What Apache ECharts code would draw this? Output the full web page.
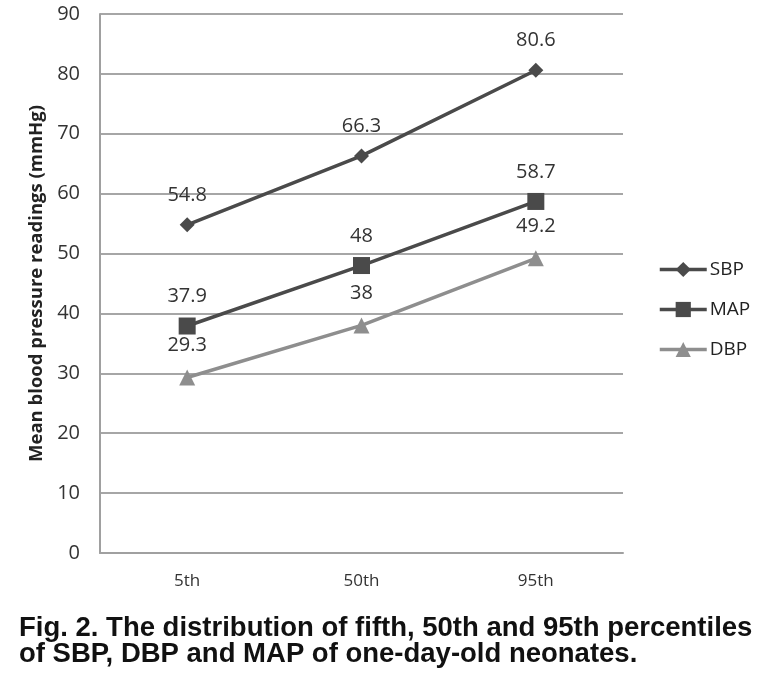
<!DOCTYPE html>
<html><head><meta charset="utf-8">
<script src="https://cdn.jsdelivr.net/npm/echarts@6/dist/echarts.min.js"></script>
<style>html,body{margin:0;padding:0;background:#fff}#c{width:766px;height:684px}</style>
</head><body><div id="c"></div>
<script>
var categories = ['5th', '50th', '95th'];
var sbp = [54.8, 66.3, 80.6];
var map = [37.9, 48, 58.7];
var dbp = [29.3, 38, 49.2];
var yTicks = [0, 10, 20, 30, 40, 50, 60, 70, 80, 90];

var chart = echarts.init(document.getElementById('c'), null, {renderer: 'canvas'});
function mk(name, data, color, symbol, size, dist) {
  return {
    name: name, type: 'line', data: data, symbol: symbol, symbolSize: size,
    lineStyle: {color: color, width: 3.5}, itemStyle: {color: color},
    label: {show: true, position: 'top', distance: dist, fontSize: 20, color: '#333', fontFamily: 'Open Sans'},
    animation: false
  };
}
chart.setOption({
  animation: false,
  title: {
    text: 'Fig. 2. The distribution of fifth, 50th and 95th percentiles\nof SBP, DBP and MAP of one-day-old neonates.',
    left: 14, top: 610,
    textStyle: {fontFamily: 'Arial', fontWeight: 'bold', fontSize: 27.5, lineHeight: 26, color: '#111'}
  },
  grid: {left: 100, right: 143, top: 14, bottom: 131},
  legend: {
    orient: 'vertical', left: 653, top: 255, itemGap: 21, itemWidth: 47, itemHeight: 19,
    lineStyle: {width: 3.5},
    textStyle: {fontSize: 19, color: '#222', fontFamily: 'Open Sans', padding: [0, 0, 0, -2]},
    data: ['SBP', 'MAP', 'DBP']
  },
  xAxis: {
    type: 'category', data: categories, boundaryGap: true,
    axisLine: {lineStyle: {color: '#a0a0a0', width: 2}}, axisTick: {show: false},
    axisLabel: {fontSize: 17, color: '#333', margin: 20, fontFamily: 'Open Sans'}
  },
  yAxis: {
    type: 'value', min: yTicks[0], max: yTicks[yTicks.length - 1], interval: 10,
    name: 'Mean blood pressure readings (mmHg)', nameLocation: 'middle', nameGap: 52,
    nameTextStyle: {fontSize: 18.5, fontWeight: 'bold', color: '#222', fontFamily: 'Open Sans'},
    axisLine: {show: true, lineStyle: {color: '#a0a0a0', width: 2}}, axisTick: {show: false},
    axisLabel: {fontSize: 20, color: '#333', margin: 20, fontFamily: 'Open Sans'},
    splitLine: {lineStyle: {color: '#a6a6a6', width: 2}}
  },
  series: [
    mk('SBP', sbp, '#4a4a4a', 'diamond', 15, 12),
    mk('MAP', map, '#4a4a4a', 'rect', 17, 11),
    mk('DBP', dbp, '#8e8e8e', 'triangle', 16, 14)
  ]
});
</script></body></html>
